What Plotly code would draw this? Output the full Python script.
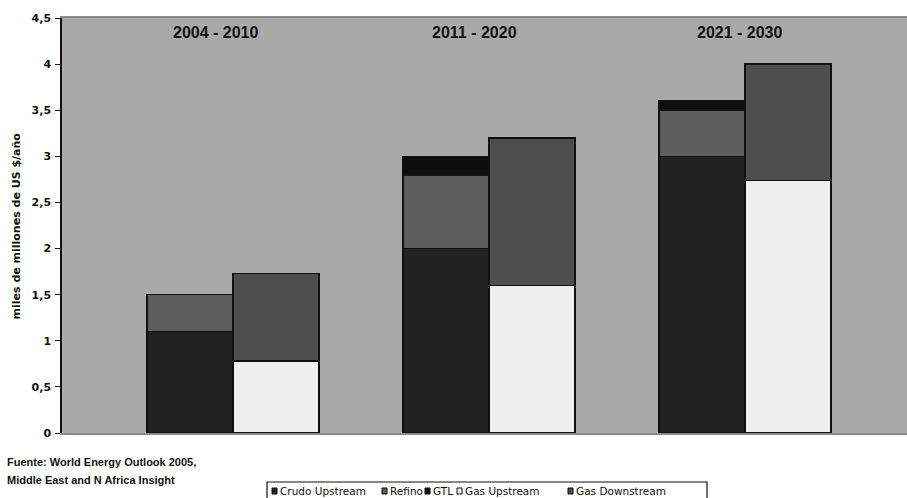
import plotly.graph_objects as go

# Investment periods and stacked components (miles de millones de US $/año)
categories = ["2004 - 2010", "2011 - 2020", "2021 - 2030"]
crudo_upstream = [1.1, 2.0, 3.0]
refino = [0.4, 0.8, 0.5]
gtl = [0.0, 0.2, 0.1]
gas_upstream = [0.78, 1.6, 2.74]
gas_downstream = [0.95, 1.6, 1.26]

y_tick_vals = [0, 0.5, 1, 1.5, 2, 2.5, 3, 3.5, 4, 4.5]
y_tick_text = ["0", "0,5", "1", "1,5", "2", "2,5", "3", "3,5", "4", "4,5"]

source_lines = ["Fuente: World Energy Outlook 2005,", "Middle East and N Africa Insight"]

# (name, values, colour, column) — column 0 = oil stack, 1 = gas stack
series = [
    ("Crudo Upstream", crudo_upstream, "#222222", 0),
    ("Refino", refino, "#5d5d5d", 0),
    ("GTL", gtl, "#0e0e0e", 0),
    ("Gas Upstream", gas_upstream, "#efefef", 1),
    ("Gas Downstream", gas_downstream, "#4e4e4e", 1),
]

BAR_W = 0.336
offsets = [-BAR_W / 2, BAR_W / 2]

fig = go.Figure()
for name, vals, color, col in series:
    fig.add_trace(go.Bar(
        x=[i + offsets[col] for i in range(len(categories))],
        y=vals,
        name=name,
        width=BAR_W,
        marker=dict(color=color, line=dict(color="#111111", width=1.5)),
        showlegend=False,
    ))

annotations = []
# period labels along the top of the plot area
for label, px in zip(categories, [0.1822, 0.4882, 0.8024]):
    annotations.append(dict(
        text=label, x=px, y=0.966, xref="paper", yref="paper",
        xanchor="center", yanchor="middle", showarrow=False,
        font=dict(family="Liberation Sans", size=16, color="#111111", weight="bold"),
    ))

# y axis title
annotations.append(dict(
    text="miles de millones de US $/año", x=-0.0533, y=0.5,
    xref="paper", yref="paper", xanchor="center", yanchor="middle",
    textangle=-90, showarrow=False,
    font=dict(family="DejaVu Sans", size=11, color="#111111", weight="bold"),
))

# source note
for line, py in zip(source_lines, [-0.0699, -0.1133]):
    annotations.append(dict(
        text=line, x=-0.0675, y=py, xref="paper", yref="paper",
        xanchor="left", yanchor="middle", showarrow=False,
        font=dict(family="Liberation Sans", size=11, color="#111111", weight="bold"),
    ))

# legend box with swatches and labels
px_w, px_h = 845.0, 415.0
def px_x(p):
    return (p - 62) / px_w

def px_y(p):
    return (433 - p) / px_h

shapes = [dict(
    type="rect", xref="paper", yref="paper",
    x0=px_x(267), x1=px_x(707), y0=px_y(502), y1=px_y(482),
    line=dict(color="#111111", width=1.2), fillcolor="white",
)]
swatch_x = [272, 382, 425, 457, 568]
text_y = 491
for (name, _, color, _), sx in zip(series, swatch_x):
    shapes.append(dict(
        type="rect", xref="paper", yref="paper",
        x0=px_x(sx), x1=px_x(sx + 5), y0=px_y(text_y + 3), y1=px_y(text_y - 3),
        line=dict(color="#111111", width=1), fillcolor=color,
    ))
    annotations.append(dict(
        text=name, x=px_x(sx + 5.5), y=px_y(text_y), xref="paper", yref="paper",
        xanchor="left", yanchor="middle", showarrow=False,
        font=dict(family="DejaVu Sans", size=10.5, color="#111111"),
    ))

fig.update_layout(
    width=907, height=498,
    margin=dict(l=62, r=0, t=18, b=65),
    barmode="stack",
    plot_bgcolor="#a9a9a9",
    paper_bgcolor="white",
    showlegend=False,
    annotations=annotations,
    shapes=shapes,
    xaxis=dict(
        range=[-0.668, 2.633], showticklabels=False, ticks="",
        showgrid=False, zeroline=False,
        showline=True, mirror=True, linecolor="#8a8a8a", linewidth=1.5,
    ),
    yaxis=dict(
        range=[0, 4.5], tickvals=y_tick_vals, ticktext=y_tick_text,
        ticks="outside", ticklen=5, tickcolor="#111111", tickwidth=1,
        showgrid=False, zeroline=False,
        showline=True, linecolor="#111111", linewidth=1.5,
        tickfont=dict(family="DejaVu Sans", size=11, color="#111111", weight="bold"),
        ticklabelstandoff=2,
    ),
)

fig.write_html("out.html")
